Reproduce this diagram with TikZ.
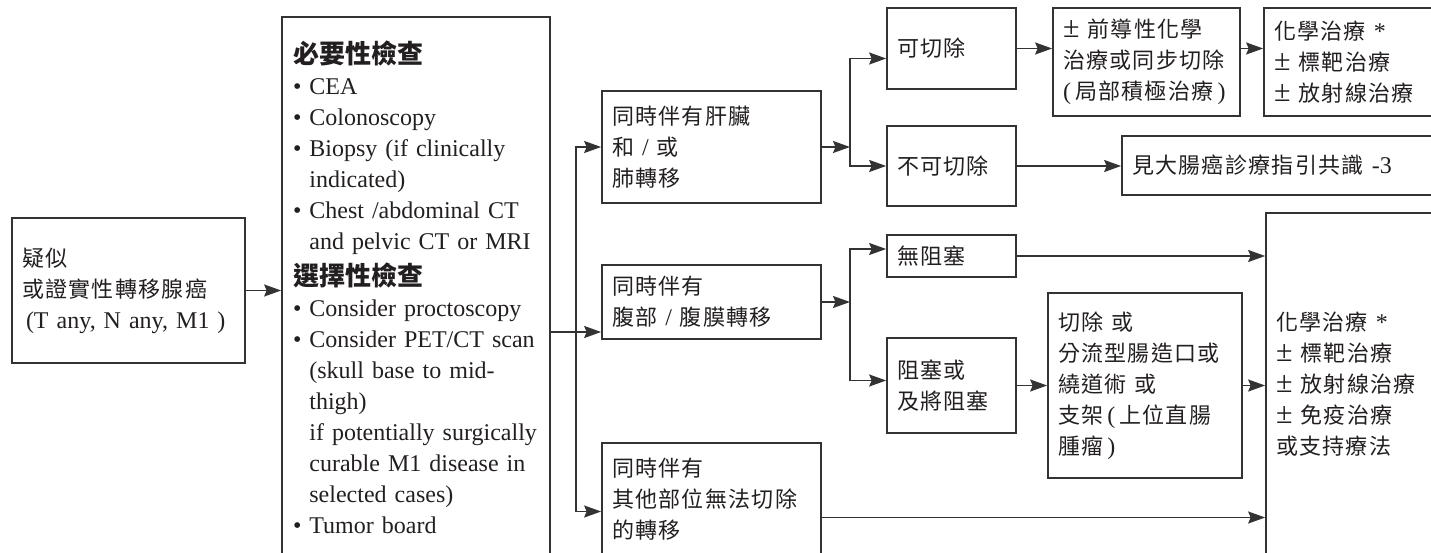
\documentclass[tikz,border=0pt]{standalone}
\usepackage{fontspec}
\setmainfont{Liberation Serif}
\newfontfamily\cjkfont[LetterSpace=6]{Noto Sans CJK TC}
\newfontfamily\cjkhead{Noto Sans CJK TC}
\usetikzlibrary{arrows.meta}

\definecolor{inkgray}{HTML}{333333}
\definecolor{inkblack}{HTML}{231F20}

\newcommand{\zh}[1]{{\cjkfont\fontsize{22}{31}\selectfont #1}}
\newcommand{\zhhead}[1]{{\cjkhead\bfseries\fontsize{26}{31}\selectfont #1}}
\newcommand{\plusmin}{{\fontsize{30}{31}\selectfont ±}}
\newcommand{\bul}{\textbullet\ }
\newcommand{\ind}{\hphantom{\textbullet\ }}

\begin{document}
\begin{tikzpicture}[x=1pt, y=-1pt,
    box/.style={draw=inkgray, line width=1.7pt, inner xsep=10pt, inner ysep=2pt,
      align=left, text=inkblack, font=\fontsize{24}{31}\selectfont},
    arr/.style={draw=inkgray, line width=1.7pt, -{Stealth[length=17pt,width=12pt,inset=2.5pt]}},
    link/.style={draw=inkgray, line width=1.7pt}]
    \useasboundingbox (0,0) rectangle (1431,553);
    \clip (0,0) rectangle (1431,553);

    % Nodes
    \node (ys) [box, text width=213pt, minimum height=145pt] at (128.5,290.5) {\zh{疑似}\\\zh{或證實性轉移腺癌}\\\,(T any, N any, M1 )};
    \node (main) [box, text width=246pt, minimum height=540pt, inner xsep=11pt] at (416,287) {\zhhead{必要性檢查}\\
        \bul CEA\\
        \bul Colonoscopy\\
        \bul Biopsy (if clinically\\
        \ind indicated)\\
        \bul Chest /abdominal CT\\
        \ind and pelvic CT or MRI\\[5pt]
        \zhhead{選擇性檢查}\\
        \bul Consider proctoscopy\\
        \bul Consider PET/CT scan\\
        \ind (skull base to mid-\\
        \ind thigh)\\
        \ind if potentially surgically\\
        \ind curable M1 disease in\\
        \ind selected cases)\\
        \bul Tumor board};
    \node (liver) [box, text width=199pt, minimum height=112pt] at (711.5,147) {\zh{同時伴有肝臟}\\\zh{和} / \zh{或}\\\zh{肺轉移}};
    \node (abd) [box, text width=199pt, minimum height=74pt] at (711.5,302) {\zh{同時伴有}\\\zh{腹部} / \zh{腹膜轉移}};
    \node (other) [box, text width=199pt, minimum height=113pt] at (711.5,499.5) {\zh{同時伴有}\\\zh{其他部位無法切除}\\\zh{的轉移}};
    \node (res) [box, text width=109pt, minimum height=81pt] at (951.5,48.5) {\zh{可切除}};
    \node (nres) [box, text width=109pt, minimum height=80pt] at (951.5,166) {\zh{不可切除}};
    \node (pre) [box, text width=167pt, minimum height=108pt] at (1146.5,62) {\plusmin\ \zh{前導性化學}\\\zh{治療或同步切除}\\(\,\zh{局部積極治療}\,)};
    \node (chemo1) [box, text width=156pt, minimum height=108pt] at (1352,62) {\zh{化學治療} *\\\plusmin\ \zh{標靶治療}\\\plusmin\ \zh{放射線治療}};
    \node (see) [box, text width=298pt, minimum height=59pt] at (1281,165.5) {\zh{見大腸癌診療指引共識} -3};
    \node (noobs) [box, text width=109pt, minimum height=42pt] at (951.5,256) {\zh{無阻塞}};
    \node (obs) [box, text width=109pt, minimum height=95pt] at (951.5,385.5) {\zh{阻塞或}\\\zh{及將阻塞}};
    \node (surg) [box, text width=174pt, minimum height=185pt] at (1145,385.5) {\zh{切除} \zh{或}\\\zh{分流型腸造口或}\\\zh{繞道術} \zh{或}\\\zh{支架}\,(\,\zh{上位直腸}\\\zh{腫瘤}\,)};
    \node (big) [box, text width=154pt, minimum height=343pt] at (1353,384.5) {\zh{化學治療} *\\\plusmin\ \zh{標靶治療}\\\plusmin\ \zh{放射線治療}\\\plusmin\ \zh{免疫治療}\\\zh{或支持療法}};

    \coordinate (jA) at (576,332);
    \coordinate (jB) at (850,147);
    \coordinate (jC) at (850,302);

    % Edges
    \draw[arr] (ys) -- (ys -| main.west);
    \draw[link] (main.east |- jA) -- (jA);
    \draw[arr] (jA) |- (liver);
    \draw[arr] (jA) -- (jA -| abd.west);
    \draw[arr] (jA) |- ([yshift=-12pt]other.west);
    \draw[arr] (liver) -- (jB);
    \draw[arr] (jB) |- ([yshift=-10pt]res.west);
    \draw[arr] (jB) |- (nres);
    \draw[arr] (res) -- (res -| pre.west);
    \draw[arr] (res -| pre.east) -- (res -| chemo1.west);
    \draw[arr] (nres) -- (nres -| see.west);
    \draw[arr] (abd) -- (jC);
    \draw[arr] (jC) |- ([yshift=7pt]noobs.west);
    \draw[arr] (jC) |- ([yshift=5pt]obs.west);
    \draw[arr] (noobs) -- (noobs -| big.west);
    \draw[arr] (obs) -- (obs -| surg.west);
    \draw[arr] (surg) -- (surg -| big.west);
    \draw[arr] ([yshift=-18pt]other.east) -- ([yshift=-18pt]other.east -| big.west);

\end{tikzpicture}
\end{document}
